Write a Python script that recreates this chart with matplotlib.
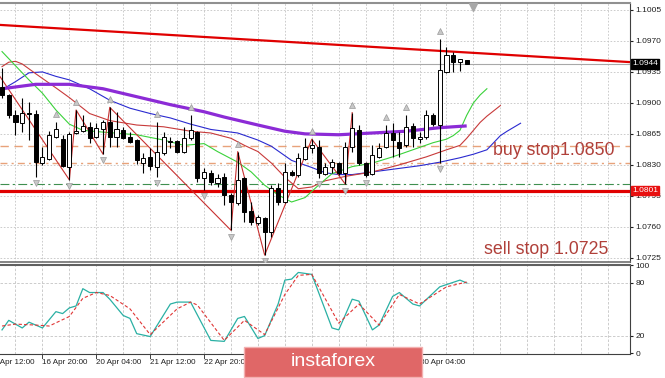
import numpy as np
import matplotlib
matplotlib.use("Agg")
import matplotlib.pyplot as plt
import matplotlib.transforms as mtransforms
from matplotlib.patches import Rectangle

plt.rcParams['font.family'] = ['Liberation Sans', 'DejaVu Sans']

# EURUSD H4 candles, bar 0 = 15 Apr 20:00
opens = [1.0918, 1.0909, 1.0886, 1.0877, 1.0889, 1.0888, 1.0832, 1.0837, 1.0861, 1.0859,
         1.0828, 1.0866, 1.0868, 1.0873, 1.0861, 1.0870, 1.0878, 1.0861, 1.0869, 1.0861,
         1.0858, 1.0832, 1.0839, 1.0828, 1.0843, 1.0856, 1.0857, 1.0845, 1.0860, 1.0867,
         1.0815, 1.0821, 1.0810, 1.0816, 1.0796, 1.0787, 1.0815, 1.0778, 1.0764, 1.0770,
         1.0754, 1.0804, 1.0788, 1.0822, 1.0818, 1.0837, 1.0849, 1.0850, 1.0820, 1.0827,
         1.0832, 1.0821, 1.0850, 1.0869, 1.0832, 1.0820, 1.0839, 1.0850, 1.0866, 1.0856,
         1.0852, 1.0874, 1.0859, 1.0861, 1.0886, 1.0875, 1.0935, 1.0954, 1.0946, 1.0948]
highs = [1.0939, 1.0910, 1.0892, 1.0906, 1.0901, 1.0892, 1.0850, 1.0868, 1.0878, 1.0864,
         1.0867, 1.0892, 1.0886, 1.0878, 1.0877, 1.0881, 1.0895, 1.0890, 1.0873, 1.0867,
         1.0859, 1.0843, 1.0849, 1.0878, 1.0867, 1.0861, 1.0858, 1.0873, 1.0886, 1.0868,
         1.0826, 1.0824, 1.0820, 1.0821, 1.0798, 1.0845, 1.0816, 1.0788, 1.0773, 1.0771,
         1.0807, 1.0809, 1.0832, 1.0824, 1.0843, 1.0860, 1.0859, 1.0858, 1.0832, 1.0837,
         1.0833, 1.0856, 1.0889, 1.0875, 1.0833, 1.0852, 1.0855, 1.0875, 1.0877, 1.0867,
         1.0886, 1.0877, 1.0867, 1.0892, 1.0889, 1.0972, 1.0963, 1.0958, 1.0950, 1.0948]
lows = [1.0906, 1.0883, 1.0864, 1.0867, 1.0858, 1.0816, 1.0830, 1.0835, 1.0860, 1.0828,
        1.0813, 1.0865, 1.0867, 1.0855, 1.0860, 1.0842, 1.0850, 1.0850, 1.0859, 1.0855,
        1.0831, 1.0821, 1.0824, 1.0816, 1.0841, 1.0849, 1.0843, 1.0843, 1.0858, 1.0811,
        1.0802, 1.0807, 1.0805, 1.0785, 1.0756, 1.0785, 1.0765, 1.0762, 1.0762, 1.0728,
        1.0748, 1.0785, 1.0787, 1.0817, 1.0816, 1.0835, 1.0843, 1.0815, 1.0819, 1.0821,
        1.0819, 1.0808, 1.0845, 1.0830, 1.0816, 1.0819, 1.0838, 1.0849, 1.0839, 1.0839,
        1.0850, 1.0850, 1.0855, 1.0859, 1.0874, 1.0832, 1.0934, 1.0935, 1.0936, 1.0944]
closes = [1.0909, 1.0886, 1.0878, 1.0889, 1.0888, 1.0833, 1.0839, 1.0864, 1.0870, 1.0829,
          1.0865, 1.0868, 1.0874, 1.0860, 1.0872, 1.0878, 1.0861, 1.0870, 1.0860, 1.0856,
          1.0835, 1.0838, 1.0829, 1.0845, 1.0861, 1.0857, 1.0845, 1.0860, 1.0869, 1.0815,
          1.0822, 1.0811, 1.0815, 1.0796, 1.0788, 1.0813, 1.0777, 1.0765, 1.0771, 1.0754,
          1.0804, 1.0788, 1.0822, 1.0819, 1.0838, 1.0850, 1.0852, 1.0821, 1.0828, 1.0833,
          1.0821, 1.0850, 1.0872, 1.0832, 1.0819, 1.0841, 1.0849, 1.0866, 1.0858, 1.0849,
          1.0873, 1.0860, 1.0861, 1.0886, 1.0876, 1.0937, 1.0954, 1.0946, 1.0950, 1.0944]

# long moving average (purple)
ma_idx = [0, 3, 5, 10, 15, 20, 25, 30, 33, 38, 42, 45, 50, 55, 60, 65, 69]
ma_val = [1.0916, 1.0919, 1.0921, 1.0921, 1.0916, 1.0907, 1.0898, 1.0890, 1.0884,
          1.0875, 1.0868, 1.0865, 1.0864, 1.0866, 1.0868, 1.0872, 1.0874]

# alligator (shifted forward)
jaw_idx = [0, 2, 4, 6, 8, 10, 13, 16, 19, 22, 25, 28, 31, 35, 38, 40, 43, 46, 48, 50,
           52, 55, 58, 62, 65, 68, 70, 72, 74, 75, 77]
jaw_val = [1.0915, 1.0924, 1.0934, 1.0935, 1.0930, 1.0926, 1.0916, 1.0903, 1.0894, 1.0888,
           1.0883, 1.0876, 1.0870, 1.0866, 1.0858, 1.0851, 1.0835, 1.0827, 1.0821, 1.0819,
           1.0819, 1.0822, 1.0825, 1.0829, 1.0833, 1.0838, 1.0842, 1.0847, 1.0863, 1.0868, 1.0877]
teeth_idx = [0, 1, 2, 3, 5, 8, 10, 13, 16, 20, 24, 28, 31, 34, 36, 38, 40, 42, 44, 46,
             48, 51, 55, 59, 63, 66, 68, 69, 70, 71, 72, 73, 74]
teeth_val = [1.0941, 1.0946, 1.0947, 1.0944, 1.0933, 1.0917, 1.0906, 1.0888, 1.0880, 1.0875,
             1.0873, 1.0868, 1.0866, 1.0860, 1.0852, 1.0845, 1.0832, 1.0816, 1.0803, 1.0805,
             1.0812, 1.0817, 1.0822, 1.0830, 1.0839, 1.0847, 1.0852, 1.0860, 1.0869, 1.0878,
             1.0885, 1.0891, 1.0897]
lips_idx = [0, 2, 4, 6, 8, 10, 12, 15, 20, 24, 27, 30, 32, 35, 37, 39, 41, 43, 45, 47,
            49, 52, 55, 58, 61, 64, 66, 67, 68, 69, 70, 71, 72]
lips_val = [1.0958, 1.0942, 1.0926, 1.0911, 1.0892, 1.0876, 1.0869, 1.0867, 1.0864, 1.0858,
            1.0852, 1.0854, 1.0845, 1.0833, 1.0822, 1.0807, 1.0796, 1.0788, 1.0793, 1.0807,
            1.0820, 1.0828, 1.0832, 1.0839, 1.0847, 1.0855, 1.0859, 1.0863, 1.0869, 1.0886,
            1.0900, 1.0909, 1.0916]

# zigzag vertices
zz_idx = [-2, 10, 11, 15, 16, 34, 35, 39, 46, 51, 52]
zz_val = [1.0949, 1.0813, 1.0892, 1.0842, 1.0895, 1.0756, 1.0845, 1.0728, 1.0859, 1.0808, 1.0889]

# fractals
frac_up = [8, 11, 16, 23, 28, 35, 46, 52, 57, 60, 65]
frac_down = [5, 10, 15, 23, 30, 34, 39, 47, 51, 54, 65]

# levels
trend_idx = [0, 69]
trend_val = [1.0988, 1.0957]
last_price = 1.0944
support = 1.0801
green_level = 1.0808
buy_level = 1.0851
low_level = 1.0832
price_ticks = [1.0725, 1.0760, 1.0795, 1.0830, 1.0865, 1.0900, 1.0935, 1.0970, 1.1005]

# stochastic
k_idx = [0, 1, 3, 4, 6, 8, 9, 10, 11, 12, 13, 15, 16, 18, 19, 20, 22, 25, 26, 28, 31, 33,
         35, 36, 38, 39, 41, 42, 43, 44, 46, 49, 50, 52, 53, 55, 56, 58, 59, 61, 62, 65, 68, 69]
k_val = [26.5, 37.4, 28.7, 35.3, 28.7, 47.3, 45.1, 51.6, 53.8, 73.5, 69.1, 69.1, 61.5, 42.9,
         39.6, 22.2, 18.9, 56.0, 58.2, 58.2, 14.5, 13.4, 39.6, 41.8, 16.7, 20.0, 56.0, 83.3,
         84.4, 92.0, 89.8, 28.7, 26.5, 61.5, 59.3, 26.5, 32.0, 64.7, 69.1, 56.0, 53.8, 75.6,
         83.3, 80.0]
d_idx = [0, 2, 5, 7, 10, 12, 14, 16, 19, 22, 26, 28, 29, 33, 36, 39, 42, 44, 46, 50, 53,
         56, 59, 62, 66, 69]
d_val = [30.9, 33.1, 32.0, 30.9, 41.8, 62.5, 69.1, 65.8, 50.5, 21.1, 50.5, 58.2, 54.9, 14.5,
         37.4, 21.1, 66.9, 88.7, 89.8, 34.2, 56.0, 32.0, 66.9, 56.0, 75.6, 81.1]

# time labels visible around the logo
date_idx = [-2, 6, 14, 22, 30, 62]
date_lbl = ["15 Apr 12:00", "16 Apr 20:00", "20 Apr 04:00", "21 Apr 12:00", "22 Apr 20:00",
            "30 Apr 04:00"]

W, H = 665, 378
fig = plt.figure(figsize=(W / 100, H / 100), dpi=100)
ax = fig.add_axes([0, 1 - 262 / H, 630 / W, 259 / H])
ax2 = fig.add_axes([0, 1 - 354 / H, 630 / W, 89 / H], sharex=ax)

x = np.arange(len(opens))
o = np.array(opens); h = np.array(highs); l = np.array(lows); c = np.array(closes)
xmax = 93.25
ax.set_xlim(-0.3, xmax)
ax.set_ylim(1.07202, 1.10129)

# grid
for gi in np.arange(2, xmax, 4):
    ax.axvline(gi, color='#c4c4c4', lw=0.6, ls=(0, (2, 2)), zorder=0)
    ax2.axvline(gi, color='#c4c4c4', lw=0.6, ls=(0, (3, 2)), zorder=0)
for p in price_ticks:
    ax.axhline(p, color='#c4c4c4', lw=0.6, ls=(0, (2, 2)), zorder=0)

# levels
ax.axhline(last_price, color='#a8a8a8', lw=0.8, zorder=1)
ax.axhline(buy_level, color='#e8a27a', lw=1.0, ls=(0, (6, 4)), zorder=1)
ax.axhline(low_level, color='#e8a27a', lw=1.0, ls=(0, (5, 3, 1.5, 3)), zorder=1)
ax.axhline(green_level, color='#3f8f4f', lw=0.8, ls=(0, (8, 3, 2, 3)), zorder=1)
ax.axhline(support, color='#e00000', lw=2.3, zorder=2)
ax.axline((trend_idx[0], trend_val[0]), (trend_idx[1], trend_val[1]), color='#e00000', lw=1.6, zorder=2)

# indicators
ax.plot(jaw_idx, jaw_val, color='#2a2ad0', lw=0.8, zorder=3)
ax.plot(teeth_idx, teeth_val, color='#c83a3a', lw=0.8, zorder=3)
ax.plot(lips_idx, lips_val, color='#3ad23a', lw=0.8, zorder=3)
ax.plot(zz_idx, zz_val, color='#c83030', lw=0.8, zorder=3)
ax.plot(ma_idx, ma_val, color='#8c2bd6', lw=2.3, zorder=4, solid_capstyle='butt')

# candles
ax.vlines(x, l, h, color='black', lw=0.8, zorder=5)
body_lo = np.minimum(o, c)
body_h = np.maximum(np.abs(c - o), 0.00005)
up = c >= o
ax.bar(x[up], body_h[up], bottom=body_lo[up], width=0.6, color='white',
       edgecolor='black', lw=0.7, zorder=6)
ax.bar(x[~up], body_h[~up], bottom=body_lo[~up], width=0.6, color='black',
       edgecolor='black', lw=0.7, zorder=6)

# fractal arrows
ax.plot(frac_up, h[frac_up] + 0.0009, ls='none', marker='^', ms=5, mfc='#c8c8c8',
        mec='#9a9a9a', mew=0.5, zorder=7)
ax.plot(frac_down, l[frac_down] - 0.0007, ls='none', marker='v', ms=5, mfc='#c8c8c8',
        mec='#9a9a9a', mew=0.5, zorder=7)

# chart shift marker
tb = mtransforms.blended_transform_factory(ax.transData, ax.transAxes)
ax.plot([len(opens)], [0.985], transform=tb, marker='v', ms=6, color='#a8a8a8',
        clip_on=False, zorder=8)

# annotations
ax.text(72.9, 1.0846, 'buy stop1.0850', color='#b0403a', fontsize=12.8, va='center', ha='left', zorder=8)
ax.text(71.6, 1.0734, 'sell stop 1.0725', color='#b0403a', fontsize=12.8, va='center', ha='left', zorder=8)

# right price axis
ax.yaxis.tick_right()
ax.set_yticks(price_ticks)
ax.set_yticklabels(['%.4f' % p for p in price_ticks])
ax.tick_params(axis='y', labelsize=6, length=2, pad=2, colors='#202020')
ax.tick_params(axis='x', bottom=False, labelbottom=False)
ty = mtransforms.blended_transform_factory(ax.transAxes, ax.transData)
ax.text(1.003, last_price, '%.4f' % last_price, transform=ty, fontsize=6, color='white',
        va='center', ha='left', zorder=9,
        bbox=dict(boxstyle='square,pad=0.15', fc='black', ec='black'))
ax.text(1.003, support, '%.4f' % support, transform=ty, fontsize=6, color='white',
        va='center', ha='left', zorder=9,
        bbox=dict(boxstyle='square,pad=0.15', fc='#e81010', ec='#e81010'))

ax.spines['left'].set_visible(False)
ax2.spines['left'].set_visible(False)
ax.spines['top'].set_color('#909090'); ax.spines['top'].set_linewidth(1.5)
ax.spines['bottom'].set_color('#707070'); ax.spines['bottom'].set_linewidth(1.2)
ax.spines['right'].set_color('#404040'); ax.spines['right'].set_linewidth(0.8)

# stochastic panel
ax2.set_ylim(-1, 100.5)
ax2.axhline(80, color='#c4c4c4', lw=0.6, ls=(0, (3, 2)), zorder=0)
ax2.axhline(20, color='#c4c4c4', lw=0.6, ls=(0, (3, 2)), zorder=0)
ax2.plot(k_idx, k_val, color='#2ab0a4', lw=0.9, zorder=3)
ax2.plot(d_idx, d_val, color='#e03535', lw=0.8, ls=(0, (3, 2)), zorder=3)
ax2.yaxis.tick_right()
ax2.set_yticks([0, 20, 80, 100])
ax2.set_yticklabels(['0', '20', '80', '100'])
ax2.tick_params(axis='y', labelsize=6, length=2, pad=2, colors='#202020')
ax2.tick_params(axis='x', bottom=False, labelbottom=False)
ax2.spines['top'].set_color('#606060'); ax2.spines['top'].set_linewidth(1.5)
ax2.spines['right'].set_color('#404040'); ax2.spines['right'].set_linewidth(0.8)
ax2.spines['bottom'].set_color('#404040'); ax2.spines['bottom'].set_linewidth(0.8)

bt = mtransforms.blended_transform_factory(ax2.transData, ax2.transAxes)
for di, lbl in zip(date_idx, date_lbl):
    ax2.plot([di, di], [0, -0.04], transform=bt, color='#404040', lw=0.7, clip_on=False)
    ax2.text(di, -0.06, lbl, transform=bt, fontsize=5.8, ha='left', va='top',
             color='#202020', clip_on=False)

# logo
fig.patches.append(Rectangle((244 / W, 1 / H), 178 / W, 30 / H, transform=fig.transFigure,
                             facecolor='#e06767', edgecolor='#f3b0b0', lw=1.0, zorder=10))
fig.text(333 / W, 1 - 362 / H, 'instaforex', color='white', fontsize=14, ha='center',
         va='center', zorder=11)

fig.savefig('out.png', dpi=100)
